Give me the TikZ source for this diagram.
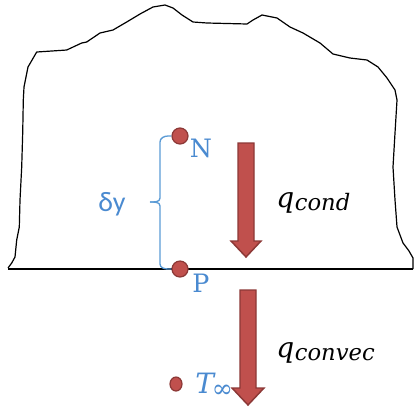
\documentclass[tikz,border=0pt]{standalone}
\usepackage{fontspec}
\usetikzlibrary{shapes.geometric}
\newfontfamily\serifcam{DejaVu Serif}
\newfontfamily\calib{Carlito}
\definecolor{lblue}{HTML}{5B9BD5}
\definecolor{tblue}{HTML}{4A8AD0}
\definecolor{dred}{HTML}{C0504D}
\definecolor{dredline}{HTML}{8C3836}
\begin{document}
\begin{tikzpicture}[x=0.75pt,y=-0.75pt,
  dotn/.style={circle,fill=dred,draw=dredline,line width=0.9pt,inner sep=0pt,minimum size=12pt},
  lbl/.style={text=tblue,inner sep=0pt},
  blockarrow/.style={fill=dred,draw=dredline,line width=1.1pt,line join=miter},
  brace/.style={draw=lblue,line width=1pt},
  outline/.style={draw=black,line width=0.9pt,line join=round}]
\useasboundingbox (0,0) rectangle (416,408);
% rough outline of the body
\draw[outline] (8,268) -- (11.7,263) -- (15,257) -- (16.7,240) -- (19.3,227) -- (20,200) -- (21.7,167) -- (22.7,133) -- (23.3,100) -- (24,87) -- (28,67) -- (36.7,52) -- (66.7,50) -- (81.7,43) -- (86.7,42) -- (100,33) -- (113,30) -- (125,23) -- (140,14) -- (153,7) -- (165,5) -- (173,8) -- (182,15) -- (193,22) -- (207,23) -- (247,24) -- (253,20) -- (262,15) -- (277,18) -- (290,27) -- (303,33) -- (320,43) -- (333,54) -- (350,58) -- (367,60) -- (378,67) -- (387,78) -- (395,90) -- (397,100) -- (395,133) -- (393,167) -- (395,200) -- (397,227) -- (403,243) -- (409,251) -- (413,258) -- (413,269);
% surface line
\coordinate (sl) at (8,269);
\coordinate (sr) at (413,269);
\draw[black,line width=1.1pt] (sl) -- (sr);
% nodes
\node[dotn] (N) at (180,136) {};
\node[dotn] (P) at (180,269) {};
\node[ellipse,fill=dred,draw=dredline,line width=0.9pt,inner sep=0pt,minimum width=9pt,minimum height=10.5pt] (Tdot) at (176,384) {};
\node[lbl,font=\serifcam\fontsize{19}{19}\selectfont] (Nl) at (201,148) {N};
\node[lbl,font=\serifcam\fontsize{19}{19}\selectfont] (Pl) at (201,283) {P};
\node[lbl,font=\calib\fontsize{21}{21}\selectfont] (dy) at (112,204) {δy};
\node[lbl,anchor=base west,font=\serifcam\fontsize{21}{21}\selectfont\itshape] (Tinf) at (195,393) {T\kern-1.5pt\raisebox{-3pt}{\fontsize{19}{19}\selectfont\upshape ∞}};
% brace
\coordinate (b1) at (160,142);
\coordinate (b2) at (160,264);
\draw[brace] (N.west) -- (168,136) to[out=180,in=90] (b1) -- (160,198) to[out=-90,in=0] (150,202);
\draw[brace] (150,202) to[out=0,in=90] (160,206) -- (b2) to[out=-90,in=180] (168,269) -- (P.west);
% block arrows
\draw[blockarrow] (238,143) -- (254,143) -- (254,241) -- (261,241) -- (246,257) -- (231,241) -- (238,241) -- cycle;
\draw[blockarrow] (240,290) -- (256,290) -- (256,388) -- (264,388) -- (248,405) -- (232,388) -- (240,388) -- cycle;
% labels of heat flow
\node[anchor=base west,inner sep=0pt] (qc) at (276,207) {\serifcam\itshape\fontsize{21}{21}\selectfont q\kern0.5pt\raisebox{-2.5pt}{\fontsize{17}{17}\selectfont cond}};
\node[anchor=base west,inner sep=0pt] (qv) at (276,357) {\serifcam\itshape\fontsize{21}{21}\selectfont q\kern0.5pt\raisebox{-2.5pt}{\fontsize{17}{17}\selectfont convec}};
\end{tikzpicture}
\end{document}
